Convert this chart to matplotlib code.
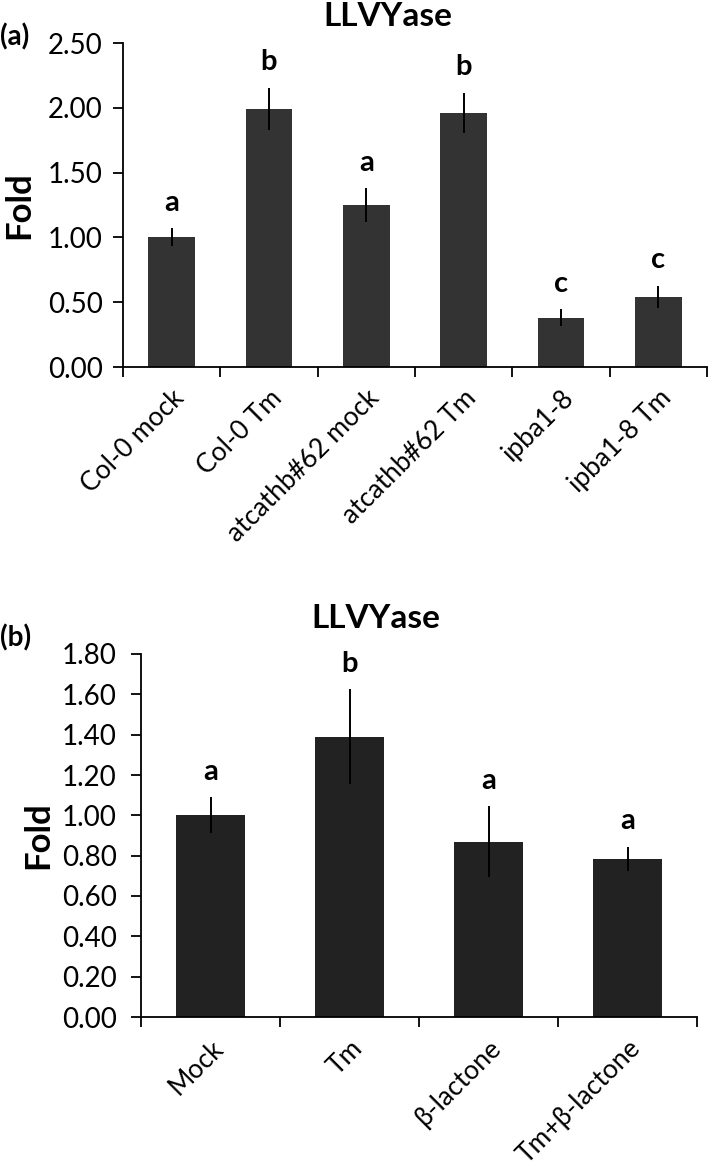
import matplotlib
matplotlib.use("Agg")
import matplotlib.pyplot as plt
import numpy as np

plt.rcParams['font.family'] = ['Lato', 'DejaVu Sans']

# Panel (a)
cats_a = ["Col-0 mock", "Col-0 Tm", "atcathb#62 mock", "atcathb#62 Tm", "ipba1-8", "ipba1-8 Tm"]
vals_a = [1.00, 1.99, 1.25, 1.96, 0.38, 0.54]
errs_a = [0.07, 0.165, 0.13, 0.155, 0.065, 0.088]
letters_a = ["a", "b", "a", "b", "c", "c"]
yticks_a = [0.0, 0.5, 1.0, 1.5, 2.0, 2.5]

# Panel (b)
cats_b = ["Mock", "Tm", "β-lactone", "Tm+β-lactone"]
vals_b = [1.00, 1.39, 0.87, 0.785]
errs_b = [0.09, 0.235, 0.175, 0.06]
letters_b = ["a", "b", "a", "a"]
yticks_b = [0.0, 0.2, 0.4, 0.6, 0.8, 1.0, 1.2, 1.4, 1.6, 1.8]

W, H = 709, 1170
fig = plt.figure(figsize=(W / 100, H / 100), dpi=100)


def px_axes(x0, y0, x1, y1):
    return fig.add_axes([x0 / W, 1 - y1 / H, (x1 - x0) / W, (y1 - y0) / H])


def panel(ax, cats, vals, errs, letters, yticks, color, width, ypad):
    n = len(cats)
    x = np.arange(n)
    ax.bar(x, vals, width=width, color=color, zorder=2)
    ax.errorbar(x, vals, yerr=errs, fmt='none', ecolor='black', elinewidth=1.4,
                capsize=0, zorder=3)
    for xi, v, e, l in zip(x, vals, errs, letters):
        ax.annotate(l, (xi, v + e), xytext=(0, 9), textcoords='offset points',
                    ha='center', va='bottom', fontsize=21, fontweight='bold')
    ax.set_xlim(-0.5, n - 0.5)
    ax.set_ylim(yticks[0], yticks[-1])
    ax.set_yticks(yticks)
    ax.set_yticklabels([f"{t:.2f}" for t in yticks], fontsize=20)
    ax.set_xticks(np.arange(n + 1) - 0.5)
    ax.set_xticklabels([])
    ax.set_xticks(x, minor=True)
    ax.set_xticklabels(cats, minor=True, rotation=45, ha='right', rotation_mode='anchor',
                       fontsize=19)
    ax.tick_params(axis='x', which='major', length=7.5, width=1.3, direction='out')
    ax.tick_params(axis='x', which='minor', length=0, pad=13)
    ax.tick_params(axis='y', length=7.5, width=1.3, direction='out', pad=ypad)
    for s in ['top', 'right']:
        ax.spines[s].set_visible(False)
    for s in ['left', 'bottom']:
        ax.spines[s].set_linewidth(1.3)


ax_a = px_axes(123, 43, 707, 367)
panel(ax_a, cats_a, vals_a, errs_a, letters_a, yticks_a, '#333333', 0.48, 7)
ax_b = px_axes(141, 654, 697, 1017)
panel(ax_b, cats_b, vals_b, errs_b, letters_b, yticks_b, '#222222', 0.49, 10)

fig.text(19 / W, 1 - 205 / H, "Fold", rotation=90, ha='center', va='center',
         fontsize=25, fontweight='bold')
fig.text(38 / W, 1 - 835 / H, "Fold", rotation=90, ha='center', va='center',
         fontsize=25, fontweight='bold')

fig.text(388 / W, 1 - 16 / H, "LLVYase", ha='center', va='center', fontsize=24,
         fontweight='bold')
fig.text(0, 1 - 37 / H, "(a)", ha='left', va='center', fontsize=20, fontweight='bold')
fig.text(376 / W, 1 - 619 / H, "LLVYase", ha='center', va='center', fontsize=24,
         fontweight='bold')
fig.text(0, 1 - 638 / H, "(b)", ha='left', va='center', fontsize=20, fontweight='bold')

fig.savefig("out.png", dpi=100, facecolor='white')
